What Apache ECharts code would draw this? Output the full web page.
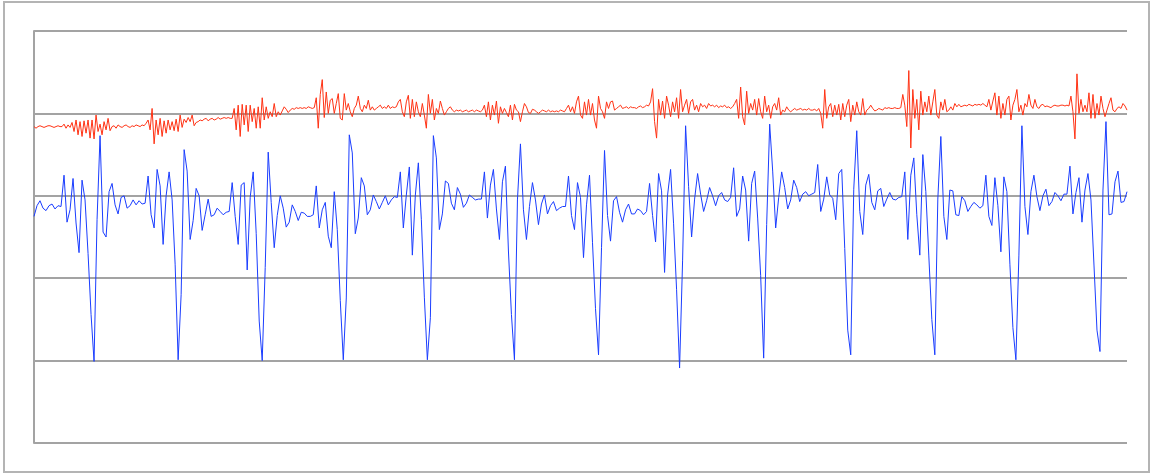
<!DOCTYPE html>
<html>
<head>
<meta charset="utf-8">
<title>ECG traces</title>
<script src="https://cdn.jsdelivr.net/npm/echarts@6/dist/echarts.min.js"></script>
<style>
  html, body { margin: 0; padding: 0; background: #ffffff; }
  #chart { width: 1151px; height: 474px; }
</style>
</head>
<body>
<div id="chart"></div>
<script>
// Lower trace: thirteen beats, one sample every ~3 px of the plot width
const blueTrace = [
  -25,-12,-6,-15,-18,-12,-10,-16,-12,-13,
  25,-32,-17,21,-33,-69,19,-5,-70,-144,
  -201,-29,73,-44,-50,5,15,-11,-22,-2,
  0,-15,-12,-5,-11,-6,-10,-9,24,-23,
  -39,32,12,-59,0,29,-5,-83,-199,-120,
  56,30,-53,-30,9,0,-42,-23,-4,-25,
  -23,-15,-19,-23,-20,-19,16,-25,-59,13,
  16,-90,-2,29,-46,-152,-200,-87,53,-8,
  -63,-24,0,-15,-38,-32,-11,-19,-30,-20,
  -21,-25,-25,-23,12,-39,-17,-8,-49,-63,
  5,-41,-127,-199,-124,74,52,-46,-27,22,
  12,-23,-17,1,-7,-16,-8,0,-11,-5,
  -1,-2,29,-39,1,35,-72,1,40,-29,
  -123,-199,-148,73,46,-41,-22,18,15,-9,
  -17,10,2,-14,-9,1,-2,-5,-4,-4,
  29,-27,13,32,-16,-53,17,36,-67,-144,
  -199,-5,63,-17,-53,-13,16,-5,-35,-10,
  1,-22,-12,-7,-18,-15,-13,-13,24,-24,
  -41,16,-2,-75,-11,25,-57,-137,-193,-63,
  55,-24,-55,-6,-1,-20,-32,-17,-10,-22,
  -22,-16,-18,-23,-19,15,-24,-56,27,6,
  -93,1,32,-34,-114,-209,-79,85,11,-50,
  -4,27,2,-19,-6,10,0,-12,0,4,
  -5,-7,-2,34,-25,-16,24,7,-55,15,
  30,-27,-97,-197,-35,87,30,-39,-2,29,
  10,-16,-5,19,10,-7,2,5,0,2,
  4,38,-19,-4,23,1,-3,-29,27,32,
  -64,-163,-193,8,79,-19,-47,13,26,-8,
  -17,6,9,-13,-4,4,-4,-5,-2,-1,
  29,-53,25,46,-23,-72,50,5,-73,-150,
  -193,-4,72,-25,-53,7,6,-23,-24,-1,
  -6,-19,-13,-8,-11,-15,-12,25,-25,-36,
  22,-12,-68,23,5,-83,-160,-199,-72,85,
  -13,-47,5,25,-1,-18,0,8,-12,-7,
  4,0,-6,2,2,36,-22,4,22,-32,
  7,27,-5,-84,-163,-189,7,90,-23,-22,
  17,30,-8,-7,5
];

// Upper trace: denser, noisy channel with a burst after every beat
const redTrace = [
  84,82,84,85,84,83,84,85,85,84,83,84,85,84,84,
  87,82,86,83,89,78,92,74,90,72,91,76,92,70,92,69,98,78,87,74,90,80,94,79,
  84,85,82,86,84,83,85,86,84,83,85,84,86,85,84,86,85,
  88,92,80,106,63,92,74,94,72,91,76,92,80,90,79,93,78,98,
  83,93,89,95,90,98,85,89,90,92,91,93,94,91,93,94,92,
  93,95,93,94,95,94,95,94,
  94,106,80,110,72,111,86,110,78,110,90,106,82,108,82,119,92,108,94,102,96,112,96,102,98,103,108,105,101,
  104,106,105,107,106,107,106,107,106,108,107,106,107,
  119,82,123,141,95,126,100,116,118,100,112,124,94,92,124,104,112,102,96,106,
  110,121,106,102,110,106,116,104,108,104,106,108,110,106,108,106,110,106,108,107,108,114,
  117,102,96,114,122,94,117,96,114,102,96,112,98,82,123,100,117,92,106,100,
  115,106,98,102,106,108,104,102,104,103,104,102,103,104,102,103,104,102,104,103,102,104,
  110,96,114,92,110,98,115,88,108,100,106,101,96,110,92,111,104,102,90,102,
  112,108,101,100,105,104,102,100,102,104,103,102,104,102,103,102,103,102,104,103,102,
  106,110,102,108,100,114,121,98,94,114,98,117,98,112,92,82,121,106,102,94,
  114,106,114,115,104,106,108,110,106,107,108,106,108,107,107,106,108,109,107,108,110,109,
  114,130,90,70,117,98,115,94,121,110,96,114,102,119,94,129,102,110,117,100,
  114,117,104,110,102,112,108,110,106,112,109,110,108,110,107,109,108,110,107,108,106,108,
  112,117,94,132,96,86,127,100,112,104,117,98,118,102,94,121,102,110,94,108,
  112,104,119,98,104,102,108,104,102,104,106,104,105,106,104,105,104,106,104,104,105,103,
  106,100,82,129,94,108,112,96,110,98,111,92,112,96,110,117,90,110,98,114,
  102,98,118,98,104,106,110,106,103,104,106,105,104,107,106,107,106,106,107,106,106,107,
  123,110,84,152,58,129,94,117,80,127,98,114,102,121,98,114,129,98,94,114,
  104,117,102,104,108,104,112,108,111,108,109,110,109,111,110,109,111,110,111,110,112,110,
  108,117,104,115,125,98,121,94,112,98,117,121,92,110,117,129,102,110,98,112,
  108,123,110,106,117,108,106,110,111,108,109,108,107,109,110,109,109,110,110,109,110,109,
  121,102,69,148,100,117,102,110,102,125,94,123,94,112,98,121,106,96,104,112,
  119,104,102,106,108,106,112,109,104
];

// Sample indices used as the (hidden) category axes
const blueSamples = blueTrace.map((_, i) => i);
const redSamples = redTrace.map((_, i) => i);

// Vertical scale: gridlines every 100 units
const yMin = -300;
const yMax = 200;
const yStep = 100;

const gridGray = '#a3a3a3';

const chart = echarts.init(document.getElementById('chart'), null, { renderer: 'canvas' });

chart.setOption({
  animation: false,
  backgroundColor: '#ffffff',
  graphic: [{
    type: 'rect',
    shape: { x: 4, y: 2, width: 1145, height: 470 },
    style: { fill: 'none', stroke: '#b4b4b4', lineWidth: 2 },
    silent: true,
    z: 0
  }],
  grid: { left: 34, right: 24, top: 31, bottom: 31, containLabel: false },
  xAxis: [
    { type: 'category', data: blueSamples, boundaryGap: false, show: false },
    { type: 'category', data: redSamples, boundaryGap: false, show: false }
  ],
  yAxis: {
    type: 'value',
    min: yMin,
    max: yMax,
    interval: yStep,
    axisLabel: { show: false },
    axisTick: { show: false },
    axisLine: { show: true, lineStyle: { color: gridGray, width: 2 } },
    splitLine: { show: true, lineStyle: { color: gridGray, width: 2 } }
  },
  series: [
    {
      name: 'lower',
      type: 'line',
      xAxisIndex: 0,
      data: blueTrace,
      showSymbol: false,
      smooth: false,
      lineStyle: { color: '#1a3dff', width: 1 },
      z: 3
    },
    {
      name: 'upper',
      type: 'line',
      xAxisIndex: 1,
      data: redTrace,
      showSymbol: false,
      smooth: false,
      lineStyle: { color: '#ff3214', width: 1 },
      z: 4
    }
  ]
});
</script>
</body>
</html>
